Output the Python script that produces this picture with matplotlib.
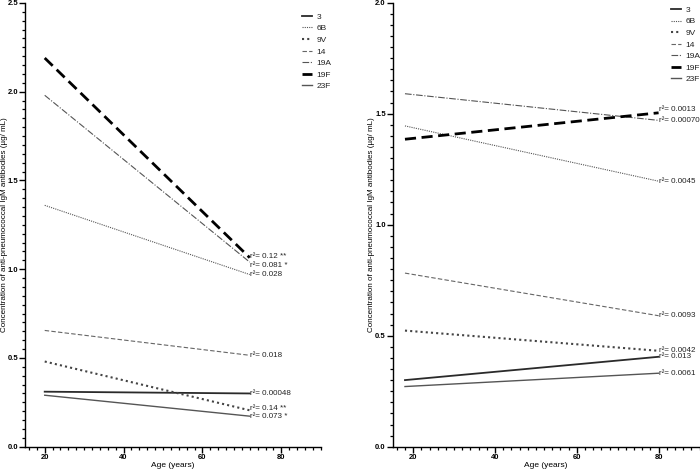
import matplotlib
matplotlib.use("Agg")
import matplotlib.pyplot as plt
from matplotlib.ticker import MultipleLocator

plt.rcParams['font.family'] = ['Liberation Sans', 'DejaVu Sans']

serotypes = ["3", "6B", "9V", "14", "19A", "19F", "23F"]

# Left panel
left_x = [20, 72]
left_start = [0.31, 1.36, 0.48, 0.655, 1.98, 2.19, 0.29]
left_end = [0.30, 0.97, 0.205, 0.515, 1.04, 1.065, 0.172]
left_labels = ["r²= 0.00048", "r²= 0.028", "r²= 0.14 **", "r²= 0.018",
               "r²= 0.081 *", "r²= 0.12 **", "r²= 0.073 *"]

# Right panel
right_x = [18, 80]
right_start = [0.30, 1.445, 0.523, 0.782, 1.59, 1.385, 0.271]
right_end = [0.405, 1.196, 0.432, 0.59, 1.47, 1.504, 0.331]
right_labels = ["r²= 0.013", "r²= 0.0045", "r²= 0.0042", "r²= 0.0093",
                "r²= 0.00070", "r²= 0.0013", "r²= 0.0061"]

styles = {
    "3":   dict(color="#2a2a2a", lw=1.3, ls="-"),
    "6B":  dict(color="#555555", lw=0.8, ls=(0, (1, 1))),
    "9V":  dict(color="#444444", lw=1.5, ls=(0, (1, 1.5))),
    "14":  dict(color="#666666", lw=0.8, ls=(0, (4, 2))),
    "19A": dict(color="#555555", lw=0.8, ls=(0, (6, 1.5, 1, 1.5))),
    "19F": dict(color="#000000", lw=2.0, ls=(0, (4, 2))),
    "23F": dict(color="#555555", lw=1.0, ls="-"),
}
left_off = {"19F": 1, "19A": -3, "9V": 2}
right_off = {"19F": 3, "19A": 0}

fig = plt.figure(figsize=(7.0, 4.71), dpi=100)
axL = fig.add_axes([25/700, 1-446.7/471, (320.7-25)/700, (446.7-3)/471])
axR = fig.add_axes([392.7/700, 1-446.7/471, (699.5-392.7)/700, (446.7-2.7)/471])

def draw(ax, xs, starts, ends, labels, offs, ymax, legend_anchor, ylab_x):
    for s, a, b, lab in zip(serotypes, starts, ends, labels):
        ax.plot(xs, [a, b], label=s, **styles[s])
        ax.annotate(lab, xy=(xs[1], b), xytext=(0, offs.get(s, 0)),
                    textcoords="offset pixels", ha="left", va="center",
                    fontsize=5.8, color="#222222")
    ax.set_xlim(15, 90)
    ax.set_ylim(0, ymax)
    ax.xaxis.set_major_locator(MultipleLocator(20))
    ax.xaxis.set_minor_locator(MultipleLocator(2))
    ax.yaxis.set_major_locator(MultipleLocator(0.5))
    ax.yaxis.set_minor_locator(MultipleLocator(0.05))
    ax.set_xticks([20, 40, 60, 80])
    for sp in ["top", "right"]:
        ax.spines[sp].set_visible(False)
    for sp in ["left", "bottom"]:
        ax.spines[sp].set_linewidth(1.0)
    ax.tick_params(which="major", length=4, width=1.0, labelsize=5.5, pad=1.0)
    ax.tick_params(which="minor", length=2.5, width=0.9)
    for t in ax.get_xticklabels() + ax.get_yticklabels():
        t.set_fontweight("bold")
    ax.yaxis.set_major_formatter(plt.FuncFormatter(lambda v, p: f"{v:.1f}"))
    ax.set_xlabel("Age (years)", fontsize=6.0, labelpad=1.0)
    ax.set_ylabel("Concentration of anti-pneumococcal IgM antibodies (µg/ mL)",
                  fontsize=5.8)
    ax.yaxis.set_label_coords(ylab_x, 0.5)
    leg = ax.legend(loc="upper left", bbox_to_anchor=legend_anchor,
                    frameon=False, fontsize=6.0, handlelength=1.2,
                    handletextpad=0.55, labelspacing=0.45, borderaxespad=0)
    for txt in leg.get_texts():
        txt.set_color("#222222")

draw(axL, left_x, left_start, left_end, left_labels, left_off, 2.5,
     (0.925, 0.985), -0.056)
draw(axR, right_x, right_start, right_end, right_labels, right_off, 2.0,
     (0.895, 1.0), -0.058)

fig.savefig("out.png", dpi=100)
